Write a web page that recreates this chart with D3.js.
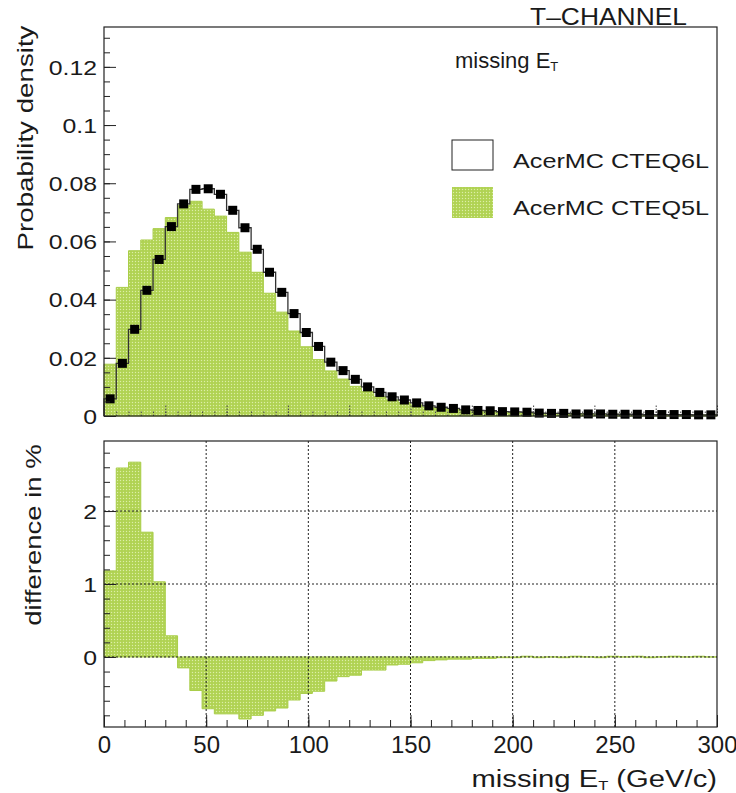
<!DOCTYPE html>
<html>
<head>
<meta charset="utf-8">
<script src="https://cdn.jsdelivr.net/npm/d3@7"></script>
<style>
  body { margin: 0; background: #fff; }
  svg { display: block; font-family: "Liberation Sans", Arial, sans-serif; }
  text { fill: #1a1a1a; }
</style>
</head>
<body>
<div id="chart"></div>
<script>
// Data: 50 bins of 6 GeV between 0 and 300 GeV
const binEdges = d3.range(0, 300, 6);
const cteq6l = [0.0059, 0.0181, 0.0298, 0.0432, 0.0538, 0.0651, 0.0729, 0.0779, 0.0781, 0.0762,
    0.0707, 0.0647, 0.0573, 0.0494, 0.0425, 0.0352, 0.0287, 0.0239, 0.0185, 0.0156,
    0.0126, 0.0100, 0.0081, 0.0066, 0.0055, 0.0045, 0.0035, 0.0030, 0.0026, 0.0021,
    0.0019, 0.0018, 0.0015, 0.0014, 0.0013, 0.0010, 0.0009, 0.0009, 0.0007, 0.0007,
    0.0007, 0.0006, 0.0006, 0.0006, 0.0005, 0.0005, 0.0005, 0.0005, 0.0004, 0.0004];
const cteq5l = [0.0178, 0.0442, 0.0568, 0.0605, 0.0644, 0.0682, 0.0723, 0.0738, 0.0711, 0.0687,
    0.0631, 0.0563, 0.0494, 0.0422, 0.0357, 0.0292, 0.0238, 0.0194, 0.0155, 0.0127,
    0.0102, 0.0084, 0.0066, 0.0055, 0.0046, 0.0038, 0.0030, 0.0026, 0.0023, 0.0018,
    0.0017, 0.0016, 0.0014, 0.0013, 0.0012, 0.0009, 0.0009, 0.0008, 0.0008, 0.0007,
    0.0006, 0.0006, 0.0006, 0.0005, 0.0005, 0.0005, 0.0005, 0.0004, 0.0004, 0.0004];
const diffPct = [1.18, 2.59, 2.67, 1.71, 1.03, 0.29, -0.15, -0.46, -0.71, -0.78,
    -0.78, -0.85, -0.80, -0.74, -0.70, -0.59, -0.50, -0.47, -0.33, -0.27,
    -0.25, -0.18, -0.18, -0.11, -0.10, -0.08, -0.05, -0.04, -0.03, -0.03,
    -0.02, -0.02, -0.01, -0.01, 0.01, -0.01, 0.00, -0.01, 0.01, 0.00,
    -0.01, 0.01, 0.00, 0.01, -0.01, 0.00, 0.01, 0.00, 0.01, 0.00];
const topTicks = [0, 0.02, 0.04, 0.06, 0.08, 0.1, 0.12];
const topTickLabels = ["0", "0.02", "0.04", "0.06", "0.08", "0.1", "0.12"];
const bottomTicks = [0, 1, 2];
const xTicks = [0, 50, 100, 150, 200, 250, 300];
const legendLabels = ["AcerMC CTEQ6L", "AcerMC CTEQ5L"];

const binWidth = 6;
const W = 736, H = 793;
const left = 104, right = 717;
const top1 = { y0: 27, y1: 416 };
const top2 = { y0: 441, y1: 727 };

const svg = d3.select("#chart").append("svg")
    .attr("width", W)
    .attr("height", H);

// green dotted fill pattern
const defs = svg.append("defs");
const pat = defs.append("pattern")
    .attr("id", "greenfill")
    .attr("patternUnits", "userSpaceOnUse")
    .attr("width", 3).attr("height", 3);
pat.append("rect").attr("width", 3).attr("height", 3).attr("fill", "#b5d65a");
pat.append("rect").attr("x", 0).attr("y", 0).attr("width", 1).attr("height", 1).attr("fill", "#dcedaa");
pat.append("rect").attr("x", 1.5).attr("y", 1.5).attr("width", 1).attr("height", 1).attr("fill", "#a2c640");

const x = d3.scaleLinear().domain([0, 300]).range([left, right]);
const y1 = d3.scaleLinear().domain([0, 0.1337]).range([top1.y1, top1.y0]);
const y2 = d3.scaleLinear().domain([-0.96, 2.96]).range([top2.y1, top2.y0]);

function stepData(vals) {
    const pts = vals.map((v, i) => ({ x: binEdges[i], v }));
    pts.push({ x: binEdges[binEdges.length - 1] + binWidth, v: vals[vals.length - 1] });
    return pts;
}

// widen text along its direction (the reference font is wider than Liberation)
function stretch(sel, f) {
    sel.each(function () {
        const w = this.getComputedTextLength();
        d3.select(this).attr("textLength", w * f).attr("lengthAdjust", "spacingAndGlyphs");
    });
}

// ---------- top panel ----------
const g1 = svg.append("g");

const area1 = d3.area()
    .curve(d3.curveStepAfter)
    .x(d => x(d.x))
    .y0(y1(0))
    .y1(d => y1(d.v));

g1.append("path")
    .datum(stepData(cteq5l))
    .attr("d", area1)
    .attr("fill", "url(#greenfill)")
    .attr("stroke", "#a8cd48")
    .attr("stroke-width", 1);

const blk = stepData(cteq6l);
g1.append("path")
    .datum([{ x: 0, v: 0 }].concat(blk).concat([{ x: 300, v: 0 }]))
    .attr("d", d3.line().x(d => x(d.x)).y(d => y1(d.v)).curve(d3.curveStepAfter))
    .attr("fill", "none")
    .attr("stroke", "#333")
    .attr("stroke-width", 1.3);

g1.selectAll(".mk")
    .data(cteq6l)
    .enter()
    .append("rect")
    .attr("class", "mk")
    .attr("x", (d, i) => x(binEdges[i] + binWidth / 2) - 4.5)
    .attr("y", d => y1(d) - 4.5)
    .attr("width", 9)
    .attr("height", 9)
    .attr("fill", "#000");

// top y axis
g1.append("g")
    .attr("class", "y-axis1")
    .attr("transform", `translate(${left},0)`)
    .call(d3.axisLeft(y1).tickValues(topTicks).tickSize(-12).tickPadding(7)
        .tickFormat((d, i) => topTickLabels[i]).tickSizeOuter(0));
g1.append("g")
    .attr("class", "y-axis1m")
    .attr("transform", `translate(${left},0)`)
    .call(d3.axisLeft(y1).tickValues(d3.range(0, 0.1337, 0.005)).tickSize(-6)
        .tickFormat("").tickSizeOuter(0));

// top x axis ticks (no labels)
g1.append("g")
    .attr("class", "x-axis1")
    .attr("transform", `translate(0,${top1.y1})`)
    .call(d3.axisBottom(x).tickValues(d3.range(0, 301, 30)).tickSize(-12).tickFormat("").tickSizeOuter(0));
g1.append("g")
    .attr("class", "x-axis1m")
    .attr("transform", `translate(0,${top1.y1})`)
    .call(d3.axisBottom(x).tickValues(d3.range(0, 301, 6)).tickSize(-6).tickFormat("").tickSizeOuter(0));

svg.selectAll(".x-axis1 line, .x-axis1m line")
    .attr("stroke", "#444")
    .attr("stroke-dasharray", "1.5,1.5");

// frame
g1.append("rect")
    .attr("x", left).attr("y", top1.y0)
    .attr("width", right - left).attr("height", top1.y1 - top1.y0)
    .attr("fill", "none").attr("stroke", "#222").attr("stroke-width", 1.2);

// ---------- bottom panel ----------
const g2 = svg.append("g");

const area2 = d3.area()
    .curve(d3.curveStepAfter)
    .x(d => x(d.x))
    .y0(y2(0))
    .y1(d => y2(d.v));

g2.append("path")
    .datum(stepData(diffPct))
    .attr("d", area2)
    .attr("fill", "url(#greenfill)")
    .attr("stroke", "#a8cd48")
    .attr("stroke-width", 1);

// grid
g2.selectAll(".gx")
    .data([50, 100, 150, 200, 250])
    .enter().append("line")
    .attr("x1", d => x(d)).attr("x2", d => x(d))
    .attr("y1", top2.y0).attr("y2", top2.y1)
    .attr("stroke", "#222").attr("stroke-dasharray", "2,2").attr("stroke-width", 1);
g2.selectAll(".gy")
    .data(bottomTicks)
    .enter().append("line")
    .attr("x1", left).attr("x2", right)
    .attr("y1", d => y2(d)).attr("y2", d => y2(d))
    .attr("stroke", "#222").attr("stroke-dasharray", "2,2").attr("stroke-width", 1);

g2.append("g")
    .attr("class", "y-axis2")
    .attr("transform", `translate(${left},0)`)
    .call(d3.axisLeft(y2).tickValues(bottomTicks).tickSize(-12).tickPadding(7)
        .tickFormat(d3.format("d")).tickSizeOuter(0));
g2.append("g")
    .attr("class", "y-axis2m")
    .attr("transform", `translate(${left},0)`)
    .call(d3.axisLeft(y2).tickValues(d3.range(-0.8, 2.96, 0.2)).tickSize(-6)
        .tickFormat("").tickSizeOuter(0));

g2.append("g")
    .attr("class", "x-axis2")
    .attr("transform", `translate(0,${top2.y1})`)
    .call(d3.axisBottom(x).tickValues(xTicks).tickSize(-12).tickPadding(9)
        .tickFormat(d3.format("d")).tickSizeOuter(0));
g2.append("g")
    .attr("class", "x-axis2m")
    .attr("transform", `translate(0,${top2.y1})`)
    .call(d3.axisBottom(x).tickValues(d3.range(0, 301, 10)).tickSize(-7)
        .tickFormat("").tickSizeOuter(0));

g2.append("rect")
    .attr("x", left).attr("y", top2.y0)
    .attr("width", right - left).attr("height", top2.y1 - top2.y0)
    .attr("fill", "none").attr("stroke", "#222").attr("stroke-width", 1.2);

// axis styling
svg.selectAll(".domain").remove();
svg.selectAll(".y-axis1 line, .y-axis1m line, .y-axis2 line, .y-axis2m line, .x-axis2 line, .x-axis2m line")
    .attr("stroke", "#222");
svg.selectAll(".y-axis1 text, .y-axis2 text")
    .attr("font-size", "20px")
    .attr("fill", "#1a1a1a")
    .attr("dy", "0.36em")
    .call(stretch, 1.24);
svg.selectAll(".x-axis2 text")
    .attr("font-size", "24px")
    .attr("fill", "#1a1a1a");

// ---------- texts ----------
svg.append("text")
    .attr("transform", `translate(33,138) rotate(-90)`)
    .attr("text-anchor", "middle")
    .attr("font-size", "22px")
    .text("Probability density")
    .call(stretch, 1.26);

svg.append("text")
    .attr("transform", `translate(41,535) rotate(-90)`)
    .attr("text-anchor", "middle")
    .attr("font-size", "22px")
    .text("difference in %")
    .call(stretch, 1.25);

svg.append("text")
    .attr("x", 687).attr("y", 25)
    .attr("text-anchor", "end")
    .attr("font-size", "24px")
    .text("T\u2013CHANNEL")
    .call(stretch, 1.1);

const t1 = svg.append("text")
    .attr("x", 455).attr("y", 68)
    .style("font-size", "22px");
t1.append("tspan").style("font-size", "22px").text("missing E");
t1.append("tspan").style("font-size", "13px").attr("dy", 3).text("T");

const t2 = svg.append("text")
    .attr("x", 717).attr("y", 787)
    .attr("text-anchor", "end")
    .attr("font-size", "23px");
t2.append("tspan").text("missing E");
t2.append("tspan").attr("font-size", "13px").attr("dy", 3).text("T");
t2.append("tspan").attr("dy", -3).text(" (GeV/c)");
t2.call(stretch, 1.27);

// legend
const lg = svg.append("g");
lg.append("rect").attr("x", 452).attr("y", 140).attr("width", 41).attr("height", 30)
    .attr("fill", "#fff").attr("stroke", "#222").attr("stroke-width", 1);
lg.append("rect").attr("x", 452).attr("y", 187).attr("width", 41).attr("height", 31)
    .attr("fill", "url(#greenfill)");
lg.selectAll(".lt")
    .data(legendLabels)
    .enter().append("text")
    .attr("x", 513)
    .attr("y", (d, i) => 168 + i * 47)
    .attr("font-size", "21px")
    .text(d => d)
    .call(stretch, 1.2);
</script>
</body>
</html>
